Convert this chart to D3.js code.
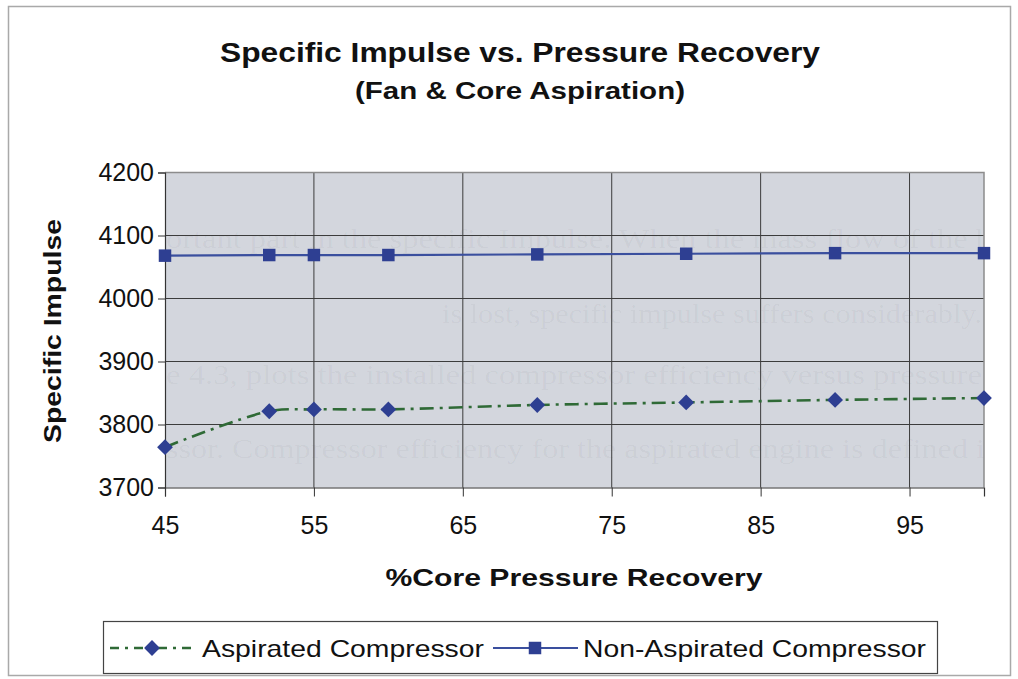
<!DOCTYPE html>
<html>
<head>
<meta charset="utf-8">
<script src="https://cdn.jsdelivr.net/npm/d3@7"></script>
<style>
  html, body { margin: 0; padding: 0; background: #ffffff; }
  svg { display: block; }
  text { font-family: "Liberation Sans", Arial, sans-serif; fill: #111; }
</style>
</head>
<body>
<svg id="chart" width="1018" height="679"></svg>
<script>
// Core pressure recovery (%) at which each case was run
const recovery = [45, 52, 55, 60, 70, 80, 90, 100];
// Specific impulse for each compressor configuration
const aspirated = [3764, 3821, 3824, 3824, 3831, 3835, 3839, 3842];
const nonAspirated = [4068, 4069, 4069, 4069, 4070, 4071, 4072, 4072];

const xTicks = [45, 55, 65, 75, 85, 95];
const yTicks = [3700, 3800, 3900, 4000, 4100, 4200];

const seriesNames = ["Aspirated Compressor", "Non-Aspirated Compressor"];

// Faint print-through from the page underneath the figure
const pageLines = [
  "ortant part in the specific Impulse. When the mass flow of the bl",
  "is lost, specific impulse suffers considerably.",
  "e 4.3, plots the installed compressor efficiency versus pressure r",
  "ssor. Compressor efficiency for the aspirated engine is defined in"
];

const svg = d3.select("#chart");

const plot = { left: 165, right: 984, top: 172.5, bottom: 487.5 };

const x = d3.scaleLinear().domain([45, 100]).range([plot.left, plot.right]);
const y = d3.scaleLinear().domain([3700, 4200]).range([plot.bottom, plot.top]);

// Outer chart frame
svg.append("rect")
  .attr("x", 8.5).attr("y", 6.5)
  .attr("width", 1002).attr("height", 669)
  .attr("fill", "none").attr("stroke", "#a9a9a9").attr("stroke-width", 1.5);

// Titles
svg.append("text")
  .attr("x", 520).attr("y", 62)
  .attr("text-anchor", "middle")
  .attr("font-size", 27).attr("font-weight", "bold")
  .attr("textLength", 600).attr("lengthAdjust", "spacingAndGlyphs")
  .text("Specific Impulse vs. Pressure Recovery");

svg.append("text")
  .attr("x", 520).attr("y", 99)
  .attr("text-anchor", "middle")
  .attr("font-size", 23).attr("font-weight", "bold")
  .attr("textLength", 330).attr("lengthAdjust", "spacingAndGlyphs")
  .text("(Fan & Core Aspiration)");

// Plot background
svg.append("rect")
  .attr("x", plot.left).attr("y", plot.top)
  .attr("width", plot.right - plot.left).attr("height", plot.bottom - plot.top)
  .attr("fill", "#d3d6dd");

// Print-through text, clipped to the plot area
svg.append("clipPath").attr("id", "plotClip")
  .append("rect")
  .attr("x", plot.left).attr("y", plot.top)
  .attr("width", plot.right - plot.left).attr("height", plot.bottom - plot.top);

const ghost = svg.append("g").attr("clip-path", "url(#plotClip)");
const ghostPos = [
  { x: 166, y: 248, len: 835 },
  { x: 442, y: 323, len: 540 },
  { x: 166, y: 384, len: 835 },
  { x: 166, y: 458, len: 835 }
];
ghost.selectAll("text")
  .data(pageLines)
  .join("text")
  .attr("x", (d, i) => ghostPos[i].x)
  .attr("y", (d, i) => ghostPos[i].y)
  .attr("textLength", (d, i) => ghostPos[i].len)
  .attr("lengthAdjust", "spacingAndGlyphs")
  .style("font-family", "'Liberation Serif', 'Times New Roman', serif")
  .style("font-size", "28px")
  .style("fill", "#000")
  .style("fill-opacity", 0.045)
  .text(d => d);

// Grid lines
svg.append("g")
  .selectAll("line")
  .data(yTicks.slice(1, -1))
  .join("line")
  .attr("x1", plot.left).attr("x2", plot.right)
  .attr("y1", d => y(d)).attr("y2", d => y(d))
  .attr("stroke", "#3c3c3c").attr("stroke-width", 1);

svg.append("g")
  .selectAll("line")
  .data(xTicks.slice(1))
  .join("line")
  .attr("x1", d => x(d)).attr("x2", d => x(d))
  .attr("y1", plot.top).attr("y2", plot.bottom)
  .attr("stroke", "#3c3c3c").attr("stroke-width", 1);

// Top and right plot border
svg.append("path")
  .attr("d", `M${plot.left},${plot.top}H${plot.right}V${plot.bottom}`)
  .attr("fill", "none").attr("stroke", "#8c8c8c").attr("stroke-width", 1.5);

// Axes
const yAxis = d3.axisLeft(y).tickValues(yTicks).tickSize(7).tickPadding(4).tickFormat(d3.format("d"));
const gy = svg.append("g").attr("transform", `translate(${plot.left},0)`).call(yAxis);
gy.select(".domain").attr("stroke", "#333").attr("stroke-width", 1.2);
gy.selectAll(".tick line").attr("stroke", "#333");
gy.selectAll(".tick text")
  .attr("font-size", 25)
  .attr("fill", "#111")
  .attr("font-family", "'Liberation Sans', Arial, sans-serif");

const xAxis = d3.axisBottom(x).tickValues(xTicks).tickSize(9).tickPadding(20).tickFormat(d3.format("d"));
const gx = svg.append("g").attr("transform", `translate(0,${plot.bottom})`).call(xAxis);
gx.select(".domain").attr("stroke", "#333").attr("stroke-width", 1.2);
gx.selectAll(".tick line").attr("stroke", "#333");
gx.selectAll(".tick text")
  .attr("font-size", 25)
  .attr("fill", "#111")
  .attr("font-family", "'Liberation Sans', Arial, sans-serif");

// Axis titles
svg.append("text")
  .attr("x", 574).attr("y", 586)
  .attr("text-anchor", "middle")
  .attr("font-size", 24).attr("font-weight", "bold")
  .attr("textLength", 377).attr("lengthAdjust", "spacingAndGlyphs")
  .text("%Core Pressure Recovery");

svg.append("text")
  .attr("transform", "translate(61,331) rotate(-90)")
  .attr("text-anchor", "middle")
  .attr("font-size", 24).attr("font-weight", "bold")
  .attr("textLength", 224).attr("lengthAdjust", "spacingAndGlyphs")
  .text("Specific Impulse");

// Series
const markerColor = "#2e3f92";
const blueLine = "#3a4f9e";
const greenLine = "#2f6a36";
const dashPattern = "14,6,3,6";

const nonAspData = recovery.map((r, i) => ({ r, v: nonAspirated[i] }));
const aspData = recovery.map((r, i) => ({ r, v: aspirated[i] }));

svg.append("path")
  .datum(nonAspData)
  .attr("fill", "none")
  .attr("stroke", blueLine)
  .attr("stroke-width", 2.2)
  .attr("d", d3.line().x(d => x(d.r)).y(d => y(d.v)));

svg.append("path")
  .datum(aspData)
  .attr("fill", "none")
  .attr("stroke", greenLine)
  .attr("stroke-width", 2.6)
  .attr("stroke-dasharray", dashPattern)
  .attr("d", d3.line().curve(d3.curveCatmullRom.alpha(0.5)).x(d => x(d.r)).y(d => y(d.v)));

const square = d3.symbol().type(d3.symbolSquare).size(156);
const diamond = d3.symbol().type(d3.symbolSquare).size(125);

svg.append("g").selectAll("path")
  .data(nonAspData)
  .join("path")
  .attr("d", square)
  .attr("transform", d => `translate(${x(d.r)},${y(d.v)})`)
  .attr("fill", markerColor);

svg.append("g").selectAll("path")
  .data(aspData)
  .join("path")
  .attr("d", diamond)
  .attr("transform", d => `translate(${x(d.r)},${y(d.v)}) rotate(45)`)
  .attr("fill", markerColor);

// Legend
const legend = svg.append("g");
legend.append("rect")
  .attr("x", 103.5).attr("y", 621.5)
  .attr("width", 834).attr("height", 52)
  .attr("fill", "#fff").attr("stroke", "#444").attr("stroke-width", 1.2);

const legendY = 648;
legend.append("line")
  .attr("x1", 110).attr("x2", 195)
  .attr("y1", legendY).attr("y2", legendY)
  .attr("stroke", greenLine).attr("stroke-width", 2.6)
  .attr("stroke-dasharray", "9,6,3,6");
legend.append("path")
  .attr("d", diamond)
  .attr("transform", `translate(152,${legendY}) rotate(45)`)
  .attr("fill", markerColor);
legend.append("text")
  .attr("x", 202).attr("y", legendY + 9)
  .attr("font-size", 24)
  .attr("textLength", 282).attr("lengthAdjust", "spacingAndGlyphs")
  .text(seriesNames[0]);

legend.append("line")
  .attr("x1", 493).attr("x2", 578)
  .attr("y1", legendY).attr("y2", legendY)
  .attr("stroke", blueLine).attr("stroke-width", 2.2);
legend.append("path")
  .attr("d", square)
  .attr("transform", `translate(535,${legendY})`)
  .attr("fill", markerColor);
legend.append("text")
  .attr("x", 583).attr("y", legendY + 9)
  .attr("font-size", 24)
  .attr("textLength", 343).attr("lengthAdjust", "spacingAndGlyphs")
  .text(seriesNames[1]);
</script>
</body>
</html>
